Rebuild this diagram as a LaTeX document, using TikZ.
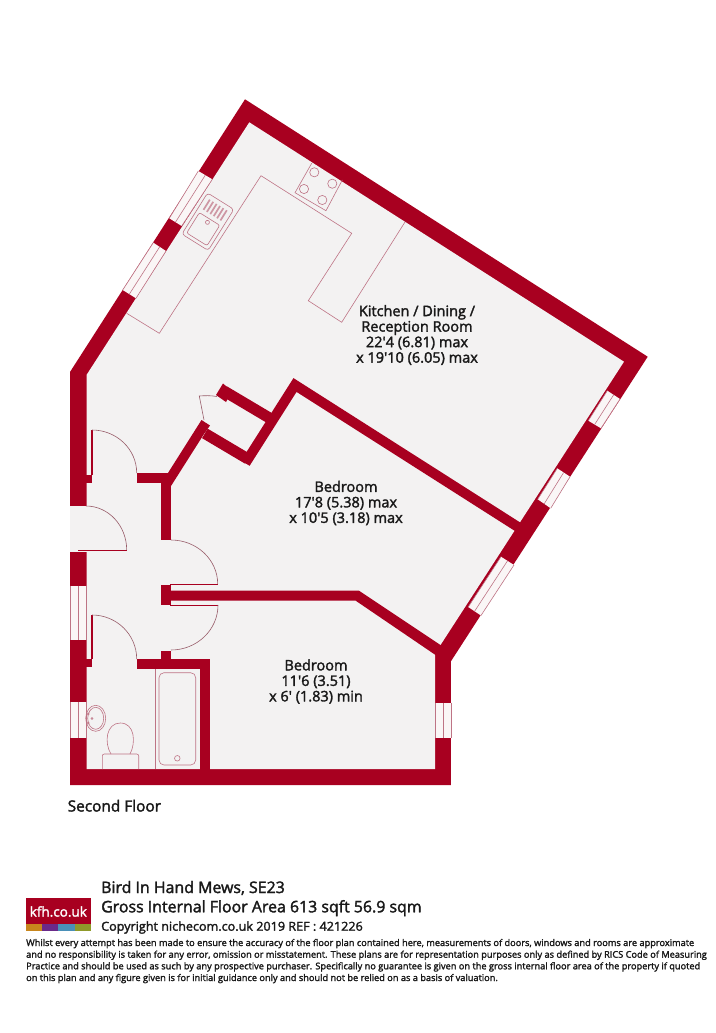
\documentclass[tikz,border=0pt]{standalone}
\usepackage{fontspec}
\usepackage{graphicx}
\setmainfont{Open Sans}
\newfontfamily\semi[FakeBold=2]{Open Sans}
\definecolor{wall}{HTML}{A80020}
\definecolor{floorc}{HTML}{F3F2F2}
\definecolor{fix}{HTML}{BE7485}
\definecolor{winc}{HTML}{FAF6F6}
\definecolor{logoa}{HTML}{C8861D}
\definecolor{logob}{HTML}{6A2A8A}
\definecolor{logoc}{HTML}{4A90B8}
\definecolor{logod}{HTML}{8F9A2A}
\usetikzlibrary{calc}
\tikzset{
  wallline/.style={draw=wall,line width=10pt,line join=miter},
  fixture/.style={draw=fix,line width=0.6pt},
  doorarc/.style={draw=fix!80!black,line width=0.6pt},
  leaf/.style={draw=wall,line width=1.6pt},
  roomlabel/.style={font=\semi\fontsize{14.5}{15.5}\selectfont,align=center,anchor=center,text=black!90},
  head/.style={font=\semi\fontsize{15.9}{16}\selectfont,anchor=base west,inner sep=0pt,text=black!90},
  small/.style={font=\semi\fontsize{9.22}{10}\selectfont,anchor=base west,inner sep=0pt,text=black!90}
}
\newcommand{\winpoly}[4]{%
  \fill[winc] #1 -- #2 -- #4 -- #3 -- cycle;
  \draw[fixture] #1 -- #3 #2 -- #4 ($#1!0.5!#2$) -- ($#3!0.5!#4$);
}
\begin{document}
\begin{tikzpicture}[x=1pt,y=-1pt]
\useasboundingbox (0,0) rectangle (715,1033);
\fill[white] (0,0) rectangle (715,1033);
% shell
\fill[wall] (70,372) -- (245,99.3) -- (647.7,356.7) -- (450.8,661.5) -- (450.8,785) -- (70,785) -- cycle;
\fill[floorc] (86.5,375) -- (249.3,122.3) -- (624,361.7) -- (435,653.5) -- (435,769) -- (86.5,769) -- cycle;
% windows
\winpoly{(198.3,171)}{(212.3,179.3)}{(169.3,218.3)}{(181.7,226)}
\winpoly{(153.3,242.7)}{(166,251)}{(122.7,290)}{(136,298.3)}
\winpoly{(620,399)}{(607.3,390.7)}{(601,428.3)}{(588.3,420.7)}
\winpoly{(570,476.7)}{(557.3,468.3)}{(550.7,508.3)}{(537.7,499.3)}
\winpoly{(514,565)}{(501,556.7)}{(481,615.5)}{(468.2,607)}
\winpoly{(450.8,702.7)}{(435,702.7)}{(450.8,738.3)}{(435,738.3)}
\winpoly{(70,585.7)}{(86.5,585.7)}{(70,640)}{(86.5,640)}
\winpoly{(70,701.7)}{(86.5,701.7)}{(70,738.3)}{(86.5,738.3)}
% entrance opening
\fill[floorc] (69.5,506) rectangle (86.5,551.5);
% interior walls
\draw[wallline] (518,527) -- (295,385) -- (248,459) -- (205,433.5);
\draw[wallline,line width=11pt] (248,459) -- (205,433.5);
\draw[wallline,line width=11pt] (224,391) -- (272,419.5);
\fill[wall] (223,383.5) -- (216,395) -- (226,402) -- (232,391) -- cycle;
\fill[wall] (166.7,475) -- (201.5,420) -- (210,425.5) -- (204,434) -- (171,486) -- cycle;
\fill[wall] (161,473.3) rectangle (170.7,540);
\fill[wall] (136.7,473.3) rectangle (170.7,483.3);
\fill[wall] (161,585) rectangle (170.7,605);
\fill[wall] (165,590.7) -- (359,590.7) -- (443,646.7) -- (437,656) -- (355.7,600.7) -- (165,600.7) -- cycle;
\fill[wall] (161,650.7) rectangle (170.7,662);
\fill[wall] (136.7,659) rectangle (210,669);
\fill[wall] (200,659) rectangle (210,770);
% door stubs and leaves
\fill[wall] (85,474.5) rectangle (92,483);
\fill[wall] (85,658.5) rectangle (92,667);
\draw[leaf] (91.7,430) -- (91.7,475);
\draw[leaf] (91.7,615) -- (91.7,659);
\draw[leaf] (78,550.5) -- (127,550.5);
\draw[leaf] (170,584.3) -- (218,584.3);
\draw[leaf] (170,605.3) -- (218,605.3);
\draw[doorarc] (92,430) arc[start angle=90,end angle=0,x radius=44.7,y radius=-43];
\draw[doorarc] (92,615) arc[start angle=90,end angle=0,x radius=44.7,y radius=-44];
\draw[doorarc] (86,506) arc[start angle=90,end angle=0,x radius=40.7,y radius=-44];
\draw[doorarc] (171,540) arc[start angle=90,end angle=0,x radius=46.7,y radius=-44];
\draw[doorarc] (218,605) arc[start angle=0,end angle=-90,x radius=47,y radius=-45];
\draw[doorarc] (204,420) -- (199.3,396) .. controls (205,395.5) and (211,395.5) .. (217,396.5);
% kitchen
\draw[fixture] (126.7,313.3) -- (159.3,333.3) -- (261,175.7) -- (351.7,233.3) -- (308.3,300.7) -- (341.7,322.3) -- (405,222);
\draw[fixture] (311.7,163.3) -- (295,192.7) -- (326,210.7) -- (342.3,180);
\foreach \hx/\hy in {314.3/172.3,332.3/183.7,304/189,322.3/200}
  \draw[fixture] (\hx,\hy) circle[radius=4.6];
\begin{scope}[shift={(208,221.5)},x={(0.848pt,-0.53pt)},y={(-0.53pt,-0.848pt)}]
  \draw[fixture,rounded corners=3pt] (-15.5,-24) -- (15.5,-24) -- (15.5,24.5) -- (-15.5,24.5) -- cycle;
  \draw[fixture,rounded corners=2pt] (-12,-3) -- (12,-3) -- (12,21) -- (-12,21) -- cycle;
  \draw[fixture] (0,1) circle[radius=2];
  \foreach \su in {-10,-6,-2,2,6,10}
    \draw[draw=fix!75!white,line width=1.7pt] (\su,-19.5) -- (\su,-7.5);
\end{scope}
% bathroom
\draw[fixture] (155,669) -- (155,769);
\draw[fixture,rounded corners=5pt] (159,672.7) rectangle (195.7,765);
\draw[fixture] (177.3,758.3) circle[radius=2.8];
\draw[fixture,rounded corners=2pt] (102.3,769) -- (102.3,754) -- (138.7,754) -- (138.7,769);
\draw[fixture] (111,754) .. controls (104,743) and (106,723) .. (120.3,723) .. controls (135,723) and (136,743) .. (130,754);
\draw[fixture] (95.7,718.3) ellipse[x radius=10,y radius=13];
\draw[fixture] (95.7,718.3) ellipse[x radius=8,y radius=11];
\draw[fixture] (88,714) circle[radius=1.3] (88,723) circle[radius=1.3] (92,718.5) circle[radius=1];
% labels
\node[roomlabel] (kitchen) at (417,335) {Kitchen / Dining /\\Reception Room\\22'4 (6.81) max\\x 19'10 (6.05) max};
\node[roomlabel] (bed1) at (346,503) {Bedroom\\17'8 (5.38) max\\x 10'5 (3.18) max};
\node[roomlabel] (bed2) at (316,681.5) {Bedroom\\11'6 (3.51)\\x 6' (1.83) min};
\node[head,font=\semi\fontsize{15.4}{16}\selectfont] (floorname) at (67.5,811.5) {Second Floor};
% logo
\fill[wall] (26,897.7) rectangle (90.7,923.5);
\fill[logoa] (26,923.5) rectangle (42.2,930.7);
\fill[logob] (42.2,923.5) rectangle (58.4,930.7);
\fill[logoc] (58.4,923.5) rectangle (74.5,930.7);
\fill[logod] (74.5,923.5) rectangle (90.7,930.7);
\node[font=\semi\fontsize{13.5}{15}\selectfont,text=white,inner sep=0pt] (logotext) at (58.3,911.5) {kfh.co.uk};
\node[head] (addr) at (101,893) {Bird In Hand Mews, SE23};
\node[head] (area) at (101,912.3) {Gross Internal Floor Area 613 sqft 56.9 sqm};
\node[head,font=\semi\fontsize{12}{14}\selectfont] (copy) at (101,930.7) {\scalebox{1.05}[1.03]{Copyright nichecom.co.uk 2019 REF : 421226}};
\node[small] (d1) at (26,946) {Whilst every attempt has been made to ensure the accuracy of the floor plan contained here, measurements of doors, windows and rooms are approximate};
\node[small] (d2) at (26,957.7) {and no responsibility is taken for any error, omission or misstatement.  These plans are for representation purposes only as defined by RICS Code of Measuring};
\node[small] (d3) at (26,969.3) {Practice and should be used as such by any prospective purchaser.  Specifically no guarantee is given on the gross internal floor area of the property if quoted};
\node[small] (d4) at (26,981) {on this plan and any figure given is for initial guidance only and should not be relied on as a basis of valuation.};
\end{tikzpicture}
\end{document}
